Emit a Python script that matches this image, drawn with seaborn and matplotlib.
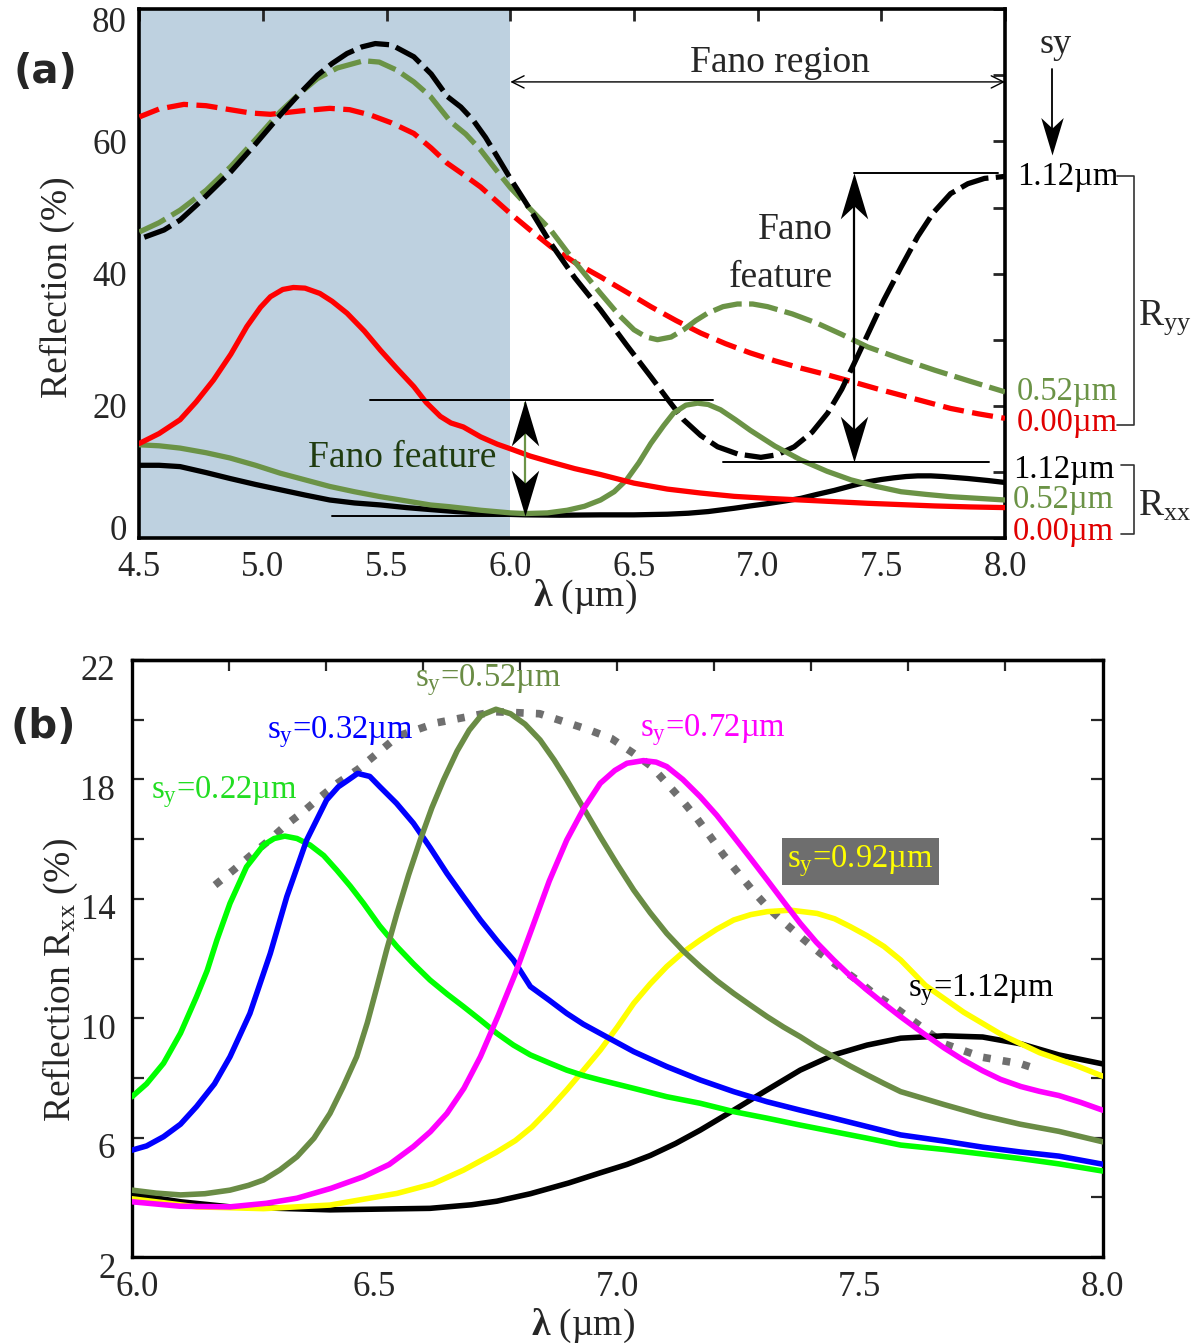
import numpy as np
import matplotlib
matplotlib.use('Agg')
import matplotlib.pyplot as plt
from matplotlib.path import Path
from matplotlib.markers import MarkerStyle
from matplotlib.ticker import MultipleLocator, FixedLocator
from matplotlib.transforms import ScaledTranslation
import seaborn as sns

# ---------------- panel (a) data : wavelength (um) / reflection (%) ----------------
# R_yy, s_y = 1.12 um (black dashed)
a_x_yy112 = [4.52, 4.6, 4.665, 4.75, 4.87, 4.97, 5.07, 5.15, 5.22, 5.28, 5.34, 5.40, 5.454, 5.52,
             5.61, 5.68, 5.745, 5.80, 5.85, 5.90, 5.947, 6.0, 6.08, 6.163, 6.26, 6.365, 6.47, 6.568,
             6.64, 6.70, 6.77, 6.838, 6.92, 7.013, 7.08, 7.148, 7.22, 7.283, 7.34, 7.39, 7.45, 7.51,
             7.58, 7.647, 7.71, 7.78, 7.85, 7.917, 8.0]
a_y_yy112 = [45.5, 46.6, 48.1, 51.0, 55.4, 59.6, 64.0, 67.3, 70.0, 71.8, 73.3, 74.3, 74.8, 74.6,
             72.8, 70.2, 66.8, 65.2, 63.2, 60.6, 57.7, 54.4, 49.7, 44.6, 39.4, 34.5, 29.2, 24.4,
             20.8, 17.9, 15.5, 13.8, 12.7, 12.2, 12.6, 13.8, 16.0, 18.9, 22.5, 26.4, 31.2, 36.0,
             41.0, 45.6, 49.2, 52.1, 53.6, 54.4, 54.7]
# R_yy, s_y = 0.52 um (green dashed)
a_x_yy052 = [4.5, 4.58, 4.665, 4.77, 4.87, 4.97, 5.07, 5.15, 5.22, 5.30, 5.407, 5.47, 5.54, 5.61,
             5.677, 5.758, 5.82, 5.88, 5.94, 6.0, 6.08, 6.163, 6.26, 6.365, 6.44, 6.5, 6.55, 6.595,
             6.65, 6.70, 6.75, 6.797, 6.86, 6.918, 6.98, 7.04, 7.14, 7.24, 7.34, 7.445, 7.58, 7.715,
             7.86, 8.0]
a_y_yy052 = [46.3, 47.7, 49.6, 52.6, 56.2, 60.3, 64.5, 67.3, 69.5, 71.1, 72.2, 72.0, 70.8, 69.0,
             66.8, 63.0, 61.1, 58.7, 55.8, 53.0, 49.8, 46.6, 41.8, 37.0, 33.7, 31.5, 30.4, 30.0,
             30.4, 31.5, 32.9, 34.0, 35.0, 35.4, 35.4, 35.0, 33.9, 32.5, 30.8, 28.9, 27.1, 25.4,
             23.7, 22.1]
# R_yy, s_y = 0.00 um (red dashed)
a_x_yy000 = [4.5, 4.58, 4.68, 4.77, 4.867, 4.95, 5.03, 5.15, 5.27, 5.35, 5.434, 5.52, 5.61, 5.68,
             5.745, 5.81, 5.88, 5.94, 6.0, 6.08, 6.163, 6.26, 6.365, 6.47, 6.568, 6.67, 6.77, 6.87,
             6.97, 7.07, 7.175, 7.28, 7.377, 7.48, 7.58, 7.68, 7.78, 7.89, 8.0]
a_y_yy000 = [63.7, 64.9, 65.6, 65.4, 64.8, 64.3, 64.1, 64.6, 65.0, 64.8, 64.0, 62.8, 61.2, 59.0,
             56.7, 55.0, 53.1, 51.1, 49.1, 46.6, 44.1, 41.7, 39.5, 37.2, 35.0, 32.9, 31.0, 29.4,
             28.0, 26.8, 25.7, 24.7, 23.7, 22.6, 21.6, 20.6, 19.6, 18.8, 18.1]
# R_xx, s_y = 0.00 um (red solid)
a_x_xx000 = [4.5, 4.58, 4.665, 4.73, 4.80, 4.87, 4.935, 4.99, 5.03, 5.08, 5.123, 5.17, 5.23, 5.28,
             5.34, 5.41, 5.475, 5.54, 5.61, 5.66, 5.717, 5.76, 5.81, 5.88, 5.947, 6.0, 6.08, 6.163,
             6.26, 6.365, 6.5, 6.635, 6.77, 6.905, 7.04, 7.175, 7.31, 7.445, 7.58, 7.715, 7.86, 8.0]
a_y_xx000 = [14.3, 15.8, 17.9, 20.6, 23.9, 27.8, 32.0, 34.9, 36.5, 37.6, 37.9, 37.8, 37.0, 35.8,
             34.0, 31.3, 28.4, 25.7, 22.9, 20.5, 18.4, 17.4, 16.8, 15.3, 14.2, 13.5, 12.4, 11.5,
             10.5, 9.6, 8.3, 7.4, 6.8, 6.3, 6.0, 5.75, 5.5, 5.25, 5.05, 4.85, 4.7, 4.6]
# R_xx, s_y = 0.52 um (green solid)
a_x_xx052 = [4.5, 4.58, 4.665, 4.77, 4.867, 4.97, 5.07, 5.17, 5.27, 5.37, 5.475, 5.58, 5.677,
             5.75, 5.81, 5.88, 5.94, 6.0, 6.06, 6.15, 6.23, 6.30,
             6.365, 6.42, 6.47, 6.52, 6.568, 6.62, 6.66, 6.71, 6.757, 6.80, 6.85, 6.91, 6.97,
             7.07, 7.175, 7.28, 7.377, 7.48, 7.58, 7.68, 7.78, 7.89, 8.0]
a_y_xx052 = [14.1, 13.95, 13.6, 12.9, 12.1, 11.0, 9.8, 8.8, 7.8, 7.0, 6.25, 5.6, 5.0,
             4.75, 4.5, 4.2, 4.0, 3.8, 3.7, 3.8, 4.2, 4.8,
             5.75, 7.0, 8.8, 11.4, 14.3, 17.0, 18.9, 20.1, 20.4, 20.2, 19.4, 17.9, 16.3,
             13.9, 11.8, 10.1, 8.8, 7.8, 7.0, 6.6, 6.25, 6.0, 5.75]
# R_xx, s_y = 1.12 um (black solid)
a_x_xx112 = [4.5, 4.58, 4.665, 4.77, 4.867, 4.97, 5.07, 5.17, 5.27, 5.37, 5.475, 5.58, 5.677,
             5.78, 5.88, 5.97, 6.06, 6.2, 6.365, 6.5, 6.635, 6.72, 6.8, 6.905, 6.97, 7.04, 7.11,
             7.175, 7.24, 7.31, 7.38, 7.445, 7.5, 7.55, 7.6, 7.647, 7.7, 7.75, 7.85, 7.93, 8.0]
a_y_xx112 = [11.0, 11.0, 10.8, 9.9, 9.0, 8.1, 7.3, 6.5, 5.75, 5.3, 5.0, 4.6, 4.3,
             4.0, 3.8, 3.6, 3.5, 3.45, 3.5, 3.5, 3.6, 3.75, 4.0, 4.5, 4.85, 5.2, 5.6,
             6.0, 6.6, 7.2, 7.9, 8.5, 8.85, 9.1, 9.3, 9.4, 9.4, 9.3, 9.0, 8.7, 8.4]

# ---------------- panel (b) data : R_xx for several s_y ----------------
b_x_022 = [6.0, 6.03, 6.065, 6.10, 6.133, 6.155, 6.175, 6.202, 6.236, 6.271, 6.293, 6.315, 6.34,
           6.367, 6.395, 6.422, 6.45, 6.477, 6.51, 6.546, 6.58, 6.614, 6.65, 6.683, 6.718, 6.752,
           6.786, 6.821, 6.86, 6.896, 6.93, 6.965, 7.034, 7.102, 7.171, 7.24, 7.309, 7.377, 7.446,
           7.515, 7.584, 7.675, 7.753, 7.83, 7.91, 8.0]
b_y_022 = [7.37, 7.8, 8.49, 9.5, 10.72, 11.6, 12.62, 13.85, 15.07, 15.8, 16.02, 16.1, 16.02,
           15.8, 15.45, 14.96, 14.42, 13.85, 13.1, 12.4, 11.82, 11.28, 10.8, 10.39, 9.94, 9.49,
           9.1, 8.77, 8.5, 8.26, 8.08, 7.93, 7.65, 7.37, 7.15, 6.87, 6.65, 6.42, 6.2,
           5.98, 5.75, 5.6, 5.45, 5.3, 5.12, 4.88]
b_x_032 = [6.0, 6.03, 6.065, 6.10, 6.133, 6.17, 6.202, 6.243, 6.285, 6.319, 6.36, 6.401, 6.425,
           6.443, 6.465, 6.49, 6.511, 6.545, 6.58, 6.615, 6.649, 6.684, 6.718, 6.752, 6.786,
           6.821, 6.86, 6.896, 6.93, 6.965, 7.034, 7.102, 7.171, 7.24, 7.309, 7.377, 7.446,
           7.515, 7.584, 7.675, 7.753, 7.83, 7.91, 8.0]
b_y_032 = [5.58, 5.72, 6.03, 6.45, 7.04, 7.8, 8.71, 10.16, 12.17, 14.07, 15.97, 17.31, 17.75,
           17.95, 18.2, 18.1, 17.75, 17.2, 16.53, 15.7, 14.85, 14.05, 13.29, 12.6, 11.95,
           11.06, 10.6, 10.16, 9.8, 9.49, 8.88, 8.38, 7.93, 7.54, 7.2, 6.92, 6.65,
           6.37, 6.09, 5.88, 5.68, 5.52, 5.38, 5.11]
b_x_052 = [6.0, 6.05, 6.1, 6.15, 6.202, 6.24, 6.271, 6.305, 6.34, 6.375, 6.408, 6.435, 6.463,
           6.485, 6.505, 6.525, 6.546, 6.57, 6.594, 6.618, 6.642, 6.67, 6.695, 6.72, 6.75, 6.78,
           6.81, 6.841, 6.87, 6.896, 6.93, 6.965, 7.0, 7.034, 7.068, 7.102, 7.135, 7.171, 7.205,
           7.24, 7.275, 7.309, 7.343, 7.377, 7.41, 7.446, 7.48, 7.515, 7.55, 7.584, 7.675, 7.753,
           7.83, 7.91, 8.0]
b_y_052 = [4.24, 4.14, 4.08, 4.12, 4.24, 4.4, 4.58, 4.92, 5.36, 5.98, 6.81, 7.7, 8.71,
           9.85, 11.06, 12.3, 13.51, 14.8, 15.97, 17.05, 17.98, 18.95, 19.65, 20.15, 20.35, 20.2,
           19.85, 19.32, 18.65, 17.98, 17.05, 16.08, 15.15, 14.29, 13.53, 12.84, 12.27, 11.73, 11.26,
           10.83, 10.43, 10.05, 9.7, 9.38, 9.04, 8.71, 8.4, 8.1, 7.81, 7.54, 7.1, 6.74,
           6.45, 6.21, 5.86]
b_x_072 = [6.0, 6.1, 6.202, 6.277, 6.34, 6.41, 6.477, 6.53, 6.58, 6.615, 6.649, 6.684, 6.718,
           6.755, 6.79, 6.824, 6.86, 6.896, 6.93, 6.965, 6.995, 7.02, 7.054, 7.08, 7.102, 7.135,
           7.171, 7.205, 7.24, 7.275, 7.309, 7.343, 7.377, 7.41, 7.446, 7.48, 7.515, 7.55, 7.584,
           7.63, 7.674, 7.713, 7.753, 7.79, 7.832, 7.87, 7.91, 7.955, 8.0]
b_y_072 = [3.85, 3.7, 3.68, 3.8, 3.97, 4.3, 4.69, 5.1, 5.7, 6.2, 6.81, 7.65, 8.71,
           10.1, 11.5, 13.0, 14.6, 15.97, 17.0, 17.87, 18.3, 18.54, 18.63, 18.58, 18.43, 18.0,
           17.42, 16.8, 16.08, 15.35, 14.63, 13.9, 13.18, 12.55, 11.95, 11.42, 10.94, 10.48, 10.05,
           9.5, 9.0, 8.6, 8.24, 7.95, 7.71, 7.55, 7.41, 7.18, 6.92]
b_x_092 = [6.0, 6.133, 6.271, 6.408, 6.546, 6.62, 6.683, 6.75, 6.79, 6.824, 6.86, 6.896, 6.93,
           6.965, 7.0, 7.034, 7.068, 7.102, 7.135, 7.171, 7.205, 7.24, 7.275, 7.309, 7.357, 7.412,
           7.448, 7.48, 7.515, 7.55, 7.584, 7.635, 7.714, 7.793, 7.871, 7.94, 8.0]
b_y_092 = [3.95, 3.68, 3.62, 3.74, 4.13, 4.45, 4.91, 5.5, 5.9, 6.35, 6.95, 7.6, 8.25,
           8.93, 9.7, 10.5, 11.15, 11.73, 12.2, 12.62, 12.98, 13.29, 13.47, 13.57, 13.62, 13.51,
           13.33, 13.07, 12.76, 12.4, 11.95, 11.1, 10.2, 9.44, 8.84, 8.45, 8.06]
b_x_112 = [6.0, 6.1, 6.202, 6.408, 6.614, 6.7, 6.752, 6.821, 6.9, 6.965, 7.02, 7.068, 7.12,
           7.171, 7.24, 7.309, 7.377, 7.446, 7.515, 7.584, 7.674, 7.753, 7.832, 7.91, 8.0]
b_y_112 = [4.1, 3.85, 3.68, 3.58, 3.63, 3.75, 3.87, 4.12, 4.48, 4.82, 5.1, 5.4, 5.8,
           6.25, 6.92, 7.6, 8.26, 8.77, 9.1, 9.33, 9.41, 9.37, 9.14, 8.77, 8.47]
# envelope of the peaks (grey dotted)
b_x_env = [6.171, 6.209, 6.243, 6.281, 6.315, 6.353, 6.389, 6.425, 6.466, 6.548, 6.629, 6.746,
           6.84, 6.94, 6.988, 7.034, 7.071, 7.102, 7.133, 7.164, 7.192, 7.219, 7.25, 7.281, 7.312,
           7.346, 7.381, 7.419, 7.456, 7.494, 7.532, 7.57, 7.674, 7.753, 7.832, 7.864]
b_y_env = [14.46, 14.96, 15.43, 15.94, 16.44, 16.92, 17.42, 17.89, 18.34, 19.45, 19.9, 20.27,
           20.2, 19.67, 19.37, 18.87, 18.43, 17.87, 17.31, 16.7, 16.08, 15.47, 14.85, 14.24, 13.68,
           13.18, 12.68, 12.17, 11.73, 11.28, 10.78, 10.39, 9.14, 8.69, 8.47, 8.3]

# ---------------- style ----------------
sns.set_style('white')
plt.rcParams['font.family'] = ['Liberation Serif', 'DejaVu Serif']
plt.rcParams['mathtext.fontset'] = 'custom'
plt.rcParams['mathtext.rm'] = 'Liberation Serif'
plt.rcParams['mathtext.it'] = 'Liberation Serif:italic'
plt.rcParams['mathtext.bf'] = 'Liberation Serif:bold'

OLIVE = '#6b9346'
OLIVE_B = '#6a8c45'
RED = '#ff0000'
tick_fs = 25
lab_fs = 27

W, H = 1202, 1343
fig = plt.figure(figsize=(W / 100, H / 100), dpi=100)
ax_a = fig.add_axes([139.3 / W, 1 - 538 / H, (1005 - 139.3) / W, (538 - 9.2) / H])
ax_b = fig.add_axes([132 / W, 1 - 1257 / H, (1102.5 - 132) / W, (1257 - 660) / H])


def curve(ax, x, y, color, ls='-', lw=3.8, z=3):
    sns.lineplot(x=np.asarray(x), y=np.asarray(y), ax=ax, color=color, lw=lw,
                 linestyle=ls, sort=False, estimator=None, zorder=z,
                 solid_joinstyle='round', dash_joinstyle='round')


head_up = Path([(0, 0), (0.3, -1), (0, -0.72), (-0.3, -1), (0, 0)],
               [Path.MOVETO, Path.LINETO, Path.LINETO, Path.LINETO, Path.CLOSEPOLY])
head_dn = Path([(0, 0), (0.3, 1), (0, 0.72), (-0.3, 1), (0, 0)],
               [Path.MOVETO, Path.LINETO, Path.LINETO, Path.LINETO, Path.CLOSEPOLY])


def head(ax, x, y, up=True, ms=66):
    ax.plot([x], [y], marker=MarkerStyle(head_up if up else head_dn), ms=ms,
            color='k', mew=0, linestyle='none', clip_on=False, zorder=6)


def shift(label, dx_px, dy_px):
    label.set_transform(label.get_transform() +
                        ScaledTranslation(dx_px / 100, dy_px / 100, fig.dpi_scale_trans))


# ---------------- panel (a) ----------------
ax = ax_a
ax.axvspan(4.5, 6.0, color='#bed1e0', lw=0, zorder=0)
curve(ax, a_x_yy000, a_y_yy000, RED, ls=(0, (4.0, 1.6)))
curve(ax, a_x_yy052, a_y_yy052, OLIVE, ls=(0, (5.5, 1.4)))
curve(ax, a_x_yy112, a_y_yy112, 'k', ls=(0, (5.5, 1.4)))
curve(ax, a_x_xx112, a_y_xx112, 'k')
curve(ax, a_x_xx052, a_y_xx052, OLIVE)
curve(ax, a_x_xx000, a_y_xx000, RED)
ax.set_xlim(4.5, 8.0)
ax.set_ylim(0, 80)

# Fano region arrow
ax.annotate('', xy=(6.0, 69), xytext=(8.0, 69),
            arrowprops=dict(arrowstyle='<->', lw=1.0, color='k', shrinkA=0, shrinkB=0,
                            mutation_scale=22))
ax.text(7.09, 71.9, 'Fano region', fontsize=lab_fs, ha='center', va='center')

# left Fano feature (R_xx)
ax.plot([5.434, 6.82], [20.9, 20.9], color='k', lw=1.4, zorder=4)
ax.plot([5.28, 6.25], [3.3, 3.3], color='k', lw=1.4, zorder=2)
ax.plot([6.06, 6.06], [3.8, 20.4], color=OLIVE, lw=1.6, zorder=5)
head(ax, 6.06, 20.9, up=True)
head(ax, 6.06, 3.3, up=False)
ax.text(5.564, 12.1, 'Fano feature', fontsize=lab_fs, color='#203c10', ha='center', va='center',
        zorder=5)

# right Fano feature (R_yy)
ax.plot([7.39, 7.97], [55.2, 55.2], color='k', lw=1.4, zorder=4)
ax.plot([6.858, 7.937], [11.55, 11.55], color='k', lw=1.4, zorder=4)
ax.plot([7.39, 7.39], [12.5, 54.0], color='k', lw=1.6, zorder=5)
head(ax, 7.39, 55.2, up=True)
head(ax, 7.39, 11.55, up=False)
ax.text(7.305, 43.0, 'Fano\nfeature', fontsize=lab_fs, ha='right', va='center',
        multialignment='right', linespacing=1.5)

# right-hand labels
ax.text(8.203, 74.6, 'sy', fontsize=lab_fs - 1, ha='center', va='center', clip_on=False)
ax.plot([8.19, 8.19], [70.9, 59.0], color='k', lw=1.3, clip_on=False)
head(ax, 8.19, 57.9, up=False, ms=54)

side_fs = 23.5
for yy, txt, c, xx in [(54.6, '1.12µm', 'k', 8.049), (22.1, '0.52µm', OLIVE, 8.049),
                       (17.5, '0.00µm', '#e00000', 8.049), (10.4, '1.12µm', 'k', 8.033),
                       (5.75, '0.52µm', OLIVE, 8.033), (0.9, '0.00µm', '#e00000', 8.033)]:
    ax.text(xx, yy, txt, fontsize=side_fs, color=c, ha='left', va='center', clip_on=False)
br = dict(color='#333333', lw=1.2, clip_on=False)
ax.plot([8.452, 8.52, 8.52, 8.452], [54.77, 54.77, 17.1, 17.1], **br)
ax.plot([8.468, 8.52, 8.52, 8.468], [11.04, 11.04, 0.6, 0.6], **br)
ax.text(8.536, 33.4, r'R$_\mathrm{yy}$', fontsize=lab_fs, ha='left', va='center', clip_on=False)
ax.text(8.536, 4.84, r'R$_\mathrm{xx}$', fontsize=lab_fs, ha='left', va='center', clip_on=False)

ax.xaxis.set_major_locator(MultipleLocator(0.5))
ax.yaxis.set_major_locator(MultipleLocator(20))
ax.yaxis.set_minor_locator(MultipleLocator(10))
ax.tick_params(axis='both', which='both', direction='in', length=8.5, width=2.0,
               top=True, right=True, labelsize=tick_fs, pad=9)
for s in ax.spines.values():
    s.set_linewidth(2.6)
    s.set_color('k')
ax.set_xlabel(r'$\mathbf{\lambda}$ (µm)', fontsize=lab_fs)
ax.set_ylabel('Reflection (%)', fontsize=lab_fs)
ax.xaxis.label.set_va('center')
ax.yaxis.label.set_va('center')
ax.xaxis.set_label_coords(0.515, -0.112)
ax.yaxis.set_label_coords(-0.095, 0.474)
fig.canvas.draw()
ylabs = ax.get_yticklabels()
for lab in ylabs:
    if lab.get_text() == '80':
        shift(lab, 0, -10)
    elif lab.get_text() == '0':
        shift(lab, 0, 11)

# ---------------- panel (b) ----------------
ax = ax_b
curve(ax, b_x_env, b_y_env, '#6f6f6f', ls=(0, (1, 1.6)), lw=5.5, z=2)
curve(ax, b_x_112, b_y_112, 'k', lw=4.0)
curve(ax, b_x_092, b_y_092, '#ffff00', lw=4.0)
curve(ax, b_x_022, b_y_022, '#00ff00', lw=4.0)
curve(ax, b_x_032, b_y_032, '#0000ff', lw=4.0)
curve(ax, b_x_052, b_y_052, OLIVE_B, lw=4.0)
curve(ax, b_x_072, b_y_072, '#ff00ff', lw=4.0)
ax.set_xlim(6.0, 8.0)
ax.set_ylim(2, 22)

sfs = 23.5
ax.text(6.039, 17.58, r's$_\mathrm{y}$=0.22µm', color='#22dd22', fontsize=sfs, ha='left', va='center')
ax.text(6.278, 19.6, r's$_\mathrm{y}$=0.32µm', color='#0000ff', fontsize=sfs, ha='left', va='center')
ax.text(6.583, 21.33, r's$_\mathrm{y}$=0.52µm', color=OLIVE_B, fontsize=sfs, ha='left', va='center')
ax.text(7.047, 19.65, r's$_\mathrm{y}$=0.72µm', color='#ff00ff', fontsize=sfs, ha='left', va='center')
ax.text(7.350, 15.25, r's$_\mathrm{y}$=0.92µm', color='#ffff00', fontsize=sfs, ha='left', va='center',
        bbox=dict(facecolor='#6e6e6e', edgecolor='none', pad=4))
ax.text(7.6, 10.94, r's$_\mathrm{y}$=1.12µm', color='k', fontsize=sfs, ha='left', va='center')

ax.xaxis.set_major_locator(FixedLocator([6.0, 6.5, 7.0, 7.5, 8.0]))
ax.xaxis.set_minor_locator(MultipleLocator(0.1))
ax.yaxis.set_major_locator(FixedLocator([2, 6, 10, 14, 18, 22]))
ax.yaxis.set_minor_locator(FixedLocator([4, 8, 12, 16, 20]))
ax.tick_params(axis='x', which='major', direction='in', length=10, width=4.0,
               top=False, labelsize=tick_fs, pad=10)
ax.tick_params(axis='x', which='minor', direction='in', length=6.5, width=1.6, top=False)
ax.tick_params(axis='y', which='both', direction='in', length=8.5, width=1.6,
               left=True, right=True, labelsize=tick_fs, pad=12)
top = ax.secondary_xaxis('top')
top.set_xticks(np.arange(6.2, 7.81, 0.2))
top.tick_params(axis='x', which='both', direction='in', length=8, width=1.6, labeltop=False)
top.spines['top'].set_linewidth(2.4)
for s in ax.spines.values():
    s.set_linewidth(2.4)
    s.set_color('k')
ax.set_xlabel(r'$\mathbf{\lambda}$ (µm)', fontsize=lab_fs)
ax.set_ylabel(r'Reflection R$_\mathrm{xx}$ (%)', fontsize=lab_fs)
ax.xaxis.label.set_va('center')
ax.yaxis.label.set_va('center')
ax.xaxis.set_label_coords(0.465, -0.1156)
ax.yaxis.set_label_coords(-0.074, 0.464)
fig.canvas.draw()
for lab in ax.get_yticklabels():
    shift(lab, 0, -8)
for lab in ax.get_xticklabels():
    if lab.get_text() == '6.0':
        shift(lab, 5, 0)

fig.text(45 / W, 1 - 72 / H, '(a)', fontfamily='DejaVu Sans', fontweight='bold', fontsize=29,
         ha='center', va='center')
fig.text(43 / W, 1 - 727 / H, '(b)', fontfamily='DejaVu Sans', fontweight='bold', fontsize=29,
         ha='center', va='center')

fig.savefig('out.png', dpi=100)
